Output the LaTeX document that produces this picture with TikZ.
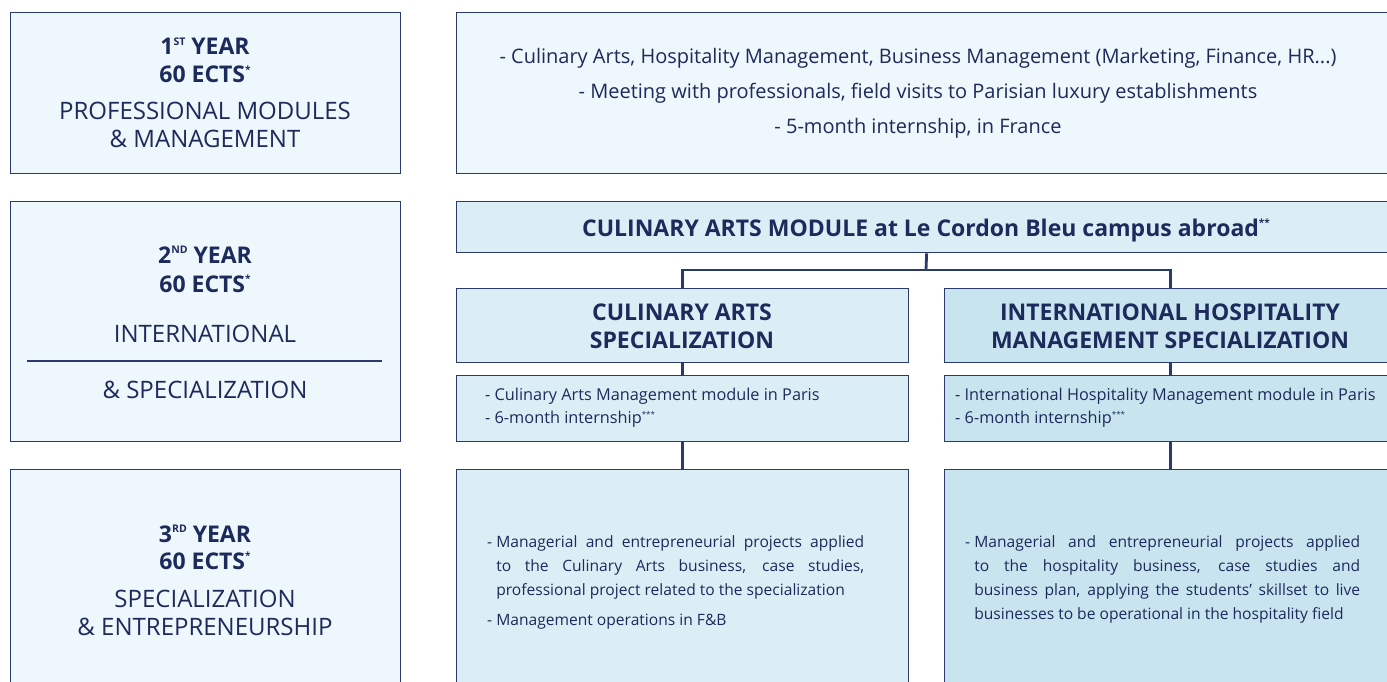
\documentclass[tikz,border=0pt]{standalone}
\usepackage{fontspec}
\setmainfont{Open Sans}
\usetikzlibrary{calc}
\definecolor{navy}{HTML}{2B3A6E}
\definecolor{ink}{HTML}{1C2A5C}
\definecolor{paleA}{HTML}{EEF7FB}
\definecolor{paleB}{HTML}{DCEEF5}
\definecolor{paleC}{HTML}{C8E5EF}
\newcommand{\sups}[1]{\raisebox{0.40em}{\fontsize{10.5}{10.5}\selectfont #1}}
\newcommand{\starsup}[1]{\raisebox{0.40em}{\fontsize{10}{10}\selectfont #1}}
\newcommand{\smallstar}[1]{\raisebox{0.36em}{\fontsize{8}{8}\selectfont #1}}
\newlength\dashw
\newcommand{\dashitem}{\settowidth\dashw{-\ }\hangindent=\dashw\hangafter=1 \makebox[\dashw][l]{-}}
\begin{document}
\begin{tikzpicture}[x=1pt,y=-1pt,
  box/.style={draw=navy, line width=1.3pt, rectangle, inner sep=0pt, anchor=north west},
  conn/.style={draw=navy, line width=2.8pt},
  yeartitle/.style={text=ink, anchor=base, font=\fontsize{23}{26}\selectfont\bfseries, inner sep=0pt},
  yearsub/.style={text=ink, anchor=base, font=\fontsize{24}{26}\selectfont, inner sep=0pt},
  toptxt/.style={text=ink, anchor=base, font=\fontsize{20}{22}\selectfont, inner sep=0pt},
  head/.style={text=ink, anchor=base, font=\fontsize{23}{26}\selectfont\bfseries, inner sep=0pt},
  spec/.style={text=ink, anchor=base, font=\fontsize{23}{26}\selectfont\bfseries, inner sep=0pt},
  det/.style={text=ink, anchor=base west, font=\fontsize{16.3}{19}\selectfont, inner sep=0pt},
  body/.style={text=ink, anchor=base west, font=\fontsize{15.6}{24}\selectfont, inner sep=0pt}
]
\useasboundingbox (0,0) rectangle (1387,682);
\clip (0,0) rectangle (1387,682);

% left column
\node[box, fill=paleA, minimum width=390pt, minimum height=161pt] (y1) at (10,12) {};
\node[box, fill=paleA, minimum width=390pt, minimum height=240pt] (y2) at (10,201) {};
\node[box, fill=paleA, minimum width=390pt, minimum height=240pt] (y3) at (10,469) {};

% right column
\node[box, fill=paleA, minimum width=940pt, minimum height=161pt] (top) at (456,12) {};
\node[box, fill=paleB, minimum width=940pt, minimum height=51pt] (hd) at (456,201) {};
\node[box, fill=paleB, minimum width=452pt, minimum height=74pt] (sL) at (456,288) {};
\node[box, fill=paleC, minimum width=452pt, minimum height=74pt] (sR) at (944,288) {};
\node[box, fill=paleB, minimum width=452pt, minimum height=66pt] (dL) at (456,375) {};
\node[box, fill=paleC, minimum width=452pt, minimum height=66pt] (dR) at (944,375) {};
\node[box, fill=paleB, minimum width=452pt, minimum height=240pt] (bL) at (456,469) {};
\node[box, fill=paleC, minimum width=452pt, minimum height=240pt] (bR) at (944,469) {};

% connectors
\coordinate (j) at (926,270);
\draw[conn] (hd.south) -- (j);
\draw[conn] (sL.north) |- (j) -| (sR.north);
\draw[conn] (sL.south) -- (dL.north);
\draw[conn] (sR.south) -- (dR.north);
\draw[conn] (dL.south) -- (bL.north);
\draw[conn] (dR.south) -- (bR.north);

% year 1
\node[yeartitle] (y1a) at (205,55) {1\sups{ST} YEAR};
\node[yeartitle] (y1b) at (205,83) {60 ECTS\starsup{*}};
\node[yearsub] (y1c) at (205,120) {PROFESSIONAL MODULES};
\node[yearsub] (y1d) at (205,148) {\& MANAGEMENT};
% year 2
\node[yeartitle] (y2a) at (205,263) {2\sups{ND} YEAR};
\node[yeartitle] (y2b) at (205,292) {60 ECTS\starsup{*}};
\node[yearsub] (y2c) at (205,342) {INTERNATIONAL};
\draw[navy, line width=1.3pt] (27,361) -- (382,361);
\node[yearsub] (y2d) at (205,398) {\& SPECIALIZATION};
% year 3
\node[yeartitle] (y3a) at (205,542) {3\sups{RD} YEAR};
\node[yeartitle] (y3b) at (205,569) {60 ECTS\starsup{*}};
\node[yearsub] (y3c) at (205,607) {SPECIALIZATION};
\node[yearsub] (y3d) at (205,635) {\& ENTREPRENEURSHIP};

% top right
\node[toptxt] (t1) at (918,64) {- Culinary Arts, Hospitality Management, Business Management (Marketing, Finance, HR...)};
\node[toptxt] (t2) at (918,99) {- Meeting with professionals, field visits to Parisian luxury establishments};
\node[toptxt] (t3) at (918,134) {- 5-month internship, in France};

% header
\node[head] (h1) at (926,236) {CULINARY ARTS MODULE at Le Cordon Bleu campus abroad\starsup{**}};

% specializations
\node[spec] (sl1) at (682,320) {CULINARY ARTS};
\node[spec] (sl2) at (682,348) {SPECIALIZATION};
\node[spec] (sr1) at (1170,320) {INTERNATIONAL HOSPITALITY};
\node[spec] (sr2) at (1170,348) {MANAGEMENT SPECIALIZATION};

% details
\node[det] (dl1) at (485,400) {- Culinary Arts Management module in Paris};
\node[det] (dl2) at (485,423) {- 6-month internship\smallstar{***}};
\node[det] (dr1) at (955,400) {- International Hospitality Management module in Paris};
\node[det] (dr2) at (955,423) {- 6-month internship\smallstar{***}};

% bottom texts
\node[body] (bl) at (487,547) {\parbox[t]{377pt}{\setlength\parindent{0pt}\hyphenpenalty=10000\exhyphenpenalty=10000%
\dashitem Managerial and entrepreneurial projects applied\linebreak to the Culinary Arts business, case studies,\linebreak professional project related to the specialization\par
\vspace{6pt}\dashitem Management operations in F\&B}};
\node[body] (br) at (965,547) {\parbox[t]{395pt}{\setlength\parindent{0pt}\hyphenpenalty=10000\exhyphenpenalty=10000%
\dashitem Managerial and entrepreneurial projects applied\linebreak to the hospitality business, case studies and\linebreak business plan, applying the students’ skillset to live\linebreak businesses to be operational in the hospitality field}};
\end{tikzpicture}
\end{document}
